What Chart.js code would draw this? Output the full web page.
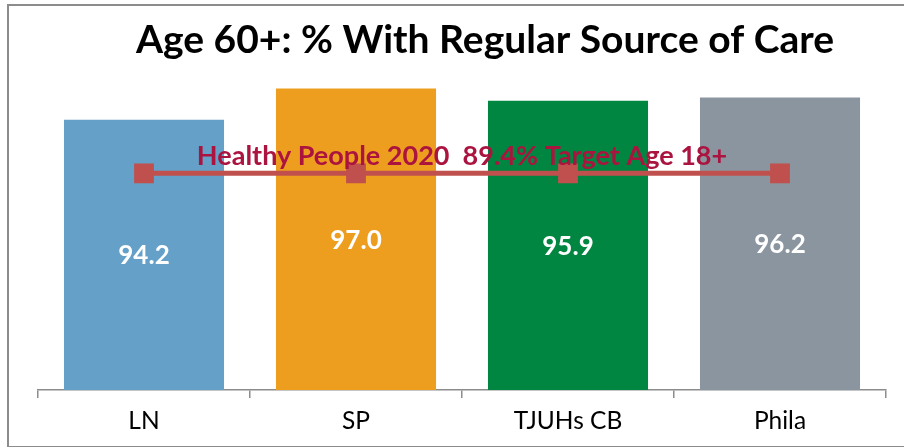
<!DOCTYPE html>
<html>
<head>
<meta charset="utf-8">
<script src="https://cdn.jsdelivr.net/npm/chart.js@4/dist/chart.umd.min.js"></script>
<style>
  html, body { margin: 0; padding: 0; background: #fff; }
  #wrap { position: relative; width: 904px; height: 447px; }
  #frame { position: absolute; left: 7px; top: 4px; width: 1000px; height: 440px; border: 2px solid #8c8c8c; pointer-events: none; }
</style>
</head>
<body>
<div id="wrap">
  <canvas id="chart" width="904" height="447"></canvas>
  <div id="frame"></div>
</div>
<script>
const titleText = "Age 60+: % With Regular Source of Care";
const categories = ["LN", "SP", "TJUHs CB", "Phila"];
const values = [94.2, 97.0, 95.9, 96.2];
const barColors = ["#65a0c8", "#ee9e1e", "#008641", "#8a959f"];
const targetLabel = "Healthy People 2020  89.4% Target Age 18+";
const targetValues = [89.4, 89.4, 89.4, 89.4];

const fontFamily = "Lato, 'Open Sans', sans-serif";

// title, bar values and target caption are drawn here
const labelPlugin = {
  id: "labels",
  afterDraw(chart) {
    const ctx = chart.ctx;
    const x = chart.scales.x;
    const y = chart.scales.y;
    ctx.save();
    ctx.textAlign = "center";
    ctx.textBaseline = "middle";

    ctx.fillStyle = "#000";
    ctx.font = `bold 39px ${fontFamily}`;
    ctx.fillText(titleText, 485, 40);

    ctx.fillStyle = "#ffffff";
    ctx.font = `bold 26px ${fontFamily}`;
    values.forEach((v, i) => {
      const top = y.getPixelForValue(v);
      ctx.fillText(v.toFixed(1), x.getPixelForValue(i), (top + y.bottom) / 2 + 1);
    });

    ctx.fillStyle = "#ac1440";
    ctx.font = `bold 27px ${fontFamily}`;
    const cx = (x.getPixelForValue(1) + x.getPixelForValue(2)) / 2;
    ctx.fillText(targetLabel, cx, y.getPixelForValue(targetValues[0]) - 17);
    ctx.restore();
  },
};

new Chart(document.getElementById("chart"), {
  data: {
    labels: categories,
    datasets: [
      {
        type: "line",
        data: targetValues,
        borderColor: "#c0504d",
        backgroundColor: "#c0504d",
        borderWidth: 5,
        pointStyle: "rect",
        pointRadius: 14,
        pointBorderWidth: 0,
        order: 0,
      },
      {
        type: "bar",
        data: values,
        backgroundColor: barColors,
        barPercentage: 0.755,
        categoryPercentage: 1,
        order: 1,
      },
    ],
  },
  options: {
    responsive: false,
    animation: false,
    layout: { padding: { left: 38, right: 18, top: 55, bottom: 0 } },
    plugins: { legend: { display: false }, tooltip: { enabled: false }, title: { display: false } },
    scales: {
      x: {
        offset: true,
        grid: { display: true, drawOnChartArea: false, tickLength: 8, color: "#8c8c8c", lineWidth: 1.5, offset: true },
        border: { color: "#8c8c8c", width: 1.5 },
        ticks: { color: "#000", font: { family: fontFamily, size: 24.5 }, padding: 8 },
        afterFit(scale) { scale.height = 57; },
      },
      y: { display: false, min: 70, max: 100 },
    },
  },
  plugins: [labelPlugin],
});
</script>
</body>
</html>
